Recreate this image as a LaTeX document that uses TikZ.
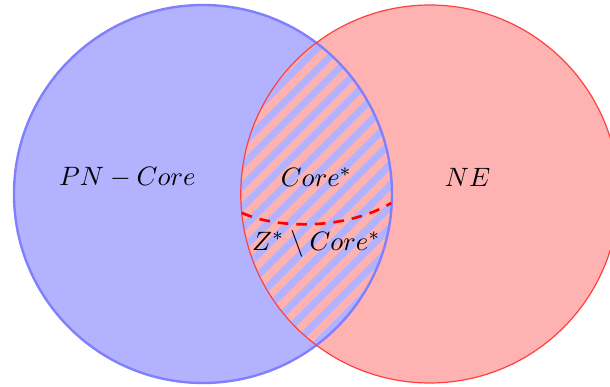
\documentclass[tikz,border=0pt]{standalone}
\begin{document}
\begin{tikzpicture}[
  bluefill/.style={fill=blue!30},
  redfill/.style={fill=red!30},
  bluerim/.style={draw=blue!50,line width=0.9pt},
  redrim/.style={draw=red!75,line width=0.45pt},
  stripe/.style={draw=red!30,line width=0.1cm},
  cut/.style={draw=red,line width=1pt,dash pattern=on 4pt off 3pt},
  lbl/.style={inner sep=1pt}
]
\useasboundingbox (-2.685,-2.553) rectangle (5.384,2.566);
\coordinate (A) at (0,0);
\coordinate (B) at (3,0);
\fill[bluefill] (A) circle (2.5);
\fill[redfill] (B) circle (2.5);
% hatched intersection
\begin{scope}
  \clip (A) circle (2.5);
  \clip (B) circle (2.5);
  \fill[blue!30] (0,-2.6) rectangle (3,2.6);
  \foreach \k in {-30,...,30} {
    \draw[stripe] ({0.278*\k-3},-3) -- ({0.278*\k+3},3);
  }
\end{scope}
\draw[bluerim] (A) circle (2.5);
\draw[redrim] (B) circle (2.5);
\coordinate (cl) at (0.516,-0.25);
\coordinate (cr) at (2.49,-0.12);
\draw[cut] (cl) .. controls (1.0,-0.47) and (1.9,-0.47) .. (cr);
\node[lbl] (pn) at (-1,0.22) {$PN-Core$};
\node[lbl] (core) at (1.5,0.22) {$Core^*$};
\node[lbl] (ne) at (3.5,0.22) {$NE$};
\node[lbl] (z) at (1.5,-0.66) {$Z^*\setminus Core^*$};
\end{tikzpicture}
\end{document}
